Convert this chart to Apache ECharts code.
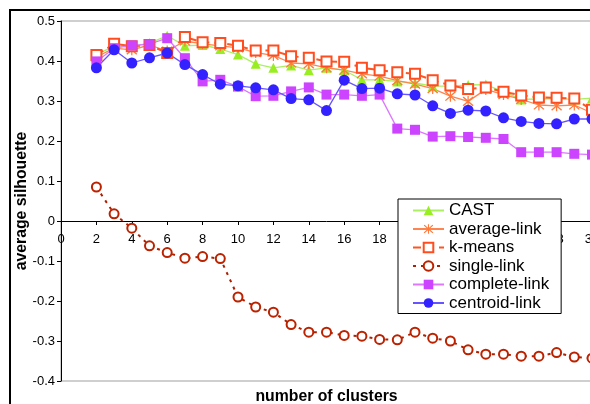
<!DOCTYPE html>
<html>
<head>
<meta charset="utf-8">
<script src="https://cdn.jsdelivr.net/npm/echarts@6/dist/echarts.min.js"></script>
<style>
html,body{margin:0;padding:0;background:#fff;overflow:hidden;}
#chart{width:700px;height:404px;}
</style>
</head>
<body>
<div id="chart"></div>
<script>
const clusters = [2,3,4,5,6,7,8,9,10,11,12,13,14,15,16,17,18,19,20,21,22,23,24,25,26,27,28,29,30];
const xTicks = [0,2,4,6,8,10,12,14,16,18,20,22,24,26,28,30];
const yTicks = [-0.4,-0.3,-0.2,-0.1,0,0.1,0.2,0.3,0.4,0.5];

const cast = [0.416,0.437,0.435,0.445,0.463,0.438,0.440,0.430,0.416,0.393,0.383,0.389,0.377,0.383,0.377,0.353,0.353,0.349,0.345,0.337,0.337,0.340,0.341,0.323,0.304,0.305,0.306,0.304,0.307];
const averageLink = [0.410,0.432,0.428,0.440,0.425,0.450,0.443,0.438,0.433,0.421,0.414,0.395,0.393,0.383,0.377,0.368,0.362,0.351,0.342,0.331,0.312,0.299,0.329,0.316,0.304,0.290,0.288,0.290,0.270];
const kMeans = [0.415,0.443,0.437,0.440,0.420,0.460,0.447,0.445,0.438,0.426,0.426,0.412,0.408,0.399,0.398,0.383,0.377,0.372,0.368,0.352,0.339,0.330,0.334,0.323,0.314,0.309,0.308,0.306,0.278];
const singleLink = [0.085,0.018,-0.018,-0.062,-0.079,-0.093,-0.089,-0.094,-0.190,-0.215,-0.228,-0.259,-0.278,-0.278,-0.286,-0.288,-0.296,-0.297,-0.278,-0.293,-0.300,-0.322,-0.333,-0.333,-0.338,-0.338,-0.329,-0.340,-0.343];
const completeLink = [0.399,0.432,0.439,0.442,0.457,0.407,0.349,0.353,0.336,0.312,0.313,0.324,0.334,0.316,0.316,0.313,0.316,0.231,0.228,0.211,0.212,0.210,0.208,0.205,0.172,0.172,0.172,0.168,0.166];
const centroidLink = [0.383,0.428,0.395,0.408,0.420,0.391,0.366,0.342,0.338,0.333,0.328,0.306,0.303,0.276,0.352,0.331,0.332,0.318,0.315,0.288,0.269,0.277,0.275,0.258,0.249,0.244,0.243,0.255,0.255];

const pairs = arr => clusters.map((c,i)=>[c,arr[i]]);
const starPath = 'path://M4.5 0L5.5 0L5.5 10L4.5 10Z M0.6 1.4L1.4 0.6L9.4 8.6L8.6 9.4Z M8.6 0.6L9.4 1.4L1.4 9.4L0.6 8.6Z';
const FONT = '"Liberation Sans", Arial, sans-serif';

function mk(name, data, symbol, size, color, lineColor, lineWidth, lineType){
  return {
    name: name, type: 'line', data: pairs(data),
    symbol: symbol, symbolSize: size,
    itemStyle: {color: color, borderWidth: symbol.indexOf('empty')===0 ? 1.5 : 0},
    lineStyle: {color: lineColor, width: lineWidth, type: lineType},
    animation: false
  };
}

const chart = echarts.init(document.getElementById('chart'));
chart.setOption({
  backgroundColor: '#fff',
  animation: false,
  textStyle: {fontFamily: FONT},
  graphic: [{
    type: 'rect', z: 100, silent: true,
    shape: {x: 10, y: 10, width: 900, height: 600},
    style: {fill: 'none', stroke: '#000', lineWidth: 2}
  }],
  grid: {left: 61, top: 21, width: 531, height: 360, show: true, borderColor: '#c0c0c0', borderWidth: 1.5, backgroundColor: 'transparent', outerBoundsMode: 'none'},
  xAxis: {
    type: 'value', min: 0, max: 30, interval: 2, position: 'bottom', offset: -160,
    name: 'number of clusters', nameLocation: 'middle', nameGap: 168, nameMoveOverlap: false,
    nameTextStyle: {fontSize: 15.8, fontWeight: 'bold', color: '#000', fontFamily: FONT},
    axisLine: {onZero: false, lineStyle: {color: '#000', width: 1}},
    axisTick: {show: true, inside: false, length: 4, lineStyle: {color: '#000'}},
    axisLabel: {fontSize: 13, color: '#000', margin: 12, fontFamily: FONT,
      formatter: v => xTicks.indexOf(v) >= 0 ? String(v) : ''},
    splitLine: {show: false}
  },
  yAxis: {
    type: 'value', min: -0.4, max: 0.5, interval: 0.1,
    name: 'average silhouette', nameLocation: 'middle', nameGap: 31, nameRotate: 90, nameMoveOverlap: false,
    nameTextStyle: {fontSize: 15.8, fontWeight: 'bold', color: '#000', fontFamily: FONT},
    axisLine: {show: true, onZero: false, lineStyle: {color: '#000', width: 1}},
    axisTick: {show: true, length: 4, lineStyle: {color: '#000'}},
    axisLabel: {fontSize: 13, color: '#000', margin: 6, fontFamily: FONT,
      formatter: v => { const r = Math.round(v*10)/10; return yTicks.indexOf(r) >= 0 ? String(r) : ''; }},
    splitLine: {show: false}
  },
  legend: {
    left: 398, top: 199, orient: 'vertical',
    backgroundColor: '#fff', borderColor: '#000', borderWidth: 1,
    padding: [3, 12, 2, 14], itemGap: 1.5, itemWidth: 31, itemHeight: 12,
    textStyle: {fontSize: 17, color: '#000', fontFamily: FONT},
    data: ['CAST','average-link','k-means','single-link','complete-link','centroid-link']
  },
  series: [
    mk('CAST', cast, 'triangle', 10, '#99ee22', '#aaf060', 1.3, 'solid'),
    mk('average-link', averageLink, starPath, 11, '#ff7a3a', '#ff8550', 1.3, 'solid'),
    mk('k-means', kMeans, 'emptyRect', 10, '#ff4d1f', '#ff5522', 2, [8,5]),
    mk('single-link', singleLink, 'emptyCircle', 9, '#bb2200', '#b02000', 2, [3,5]),
    mk('complete-link', completeLink, 'rect', 10, '#cc44ff', '#dd77ff', 1.3, 'solid'),
    mk('centroid-link', centroidLink, 'circle', 11, '#3322ff', '#6655ff', 1.3, 'solid')
  ]
});
</script>
</body>
</html>
